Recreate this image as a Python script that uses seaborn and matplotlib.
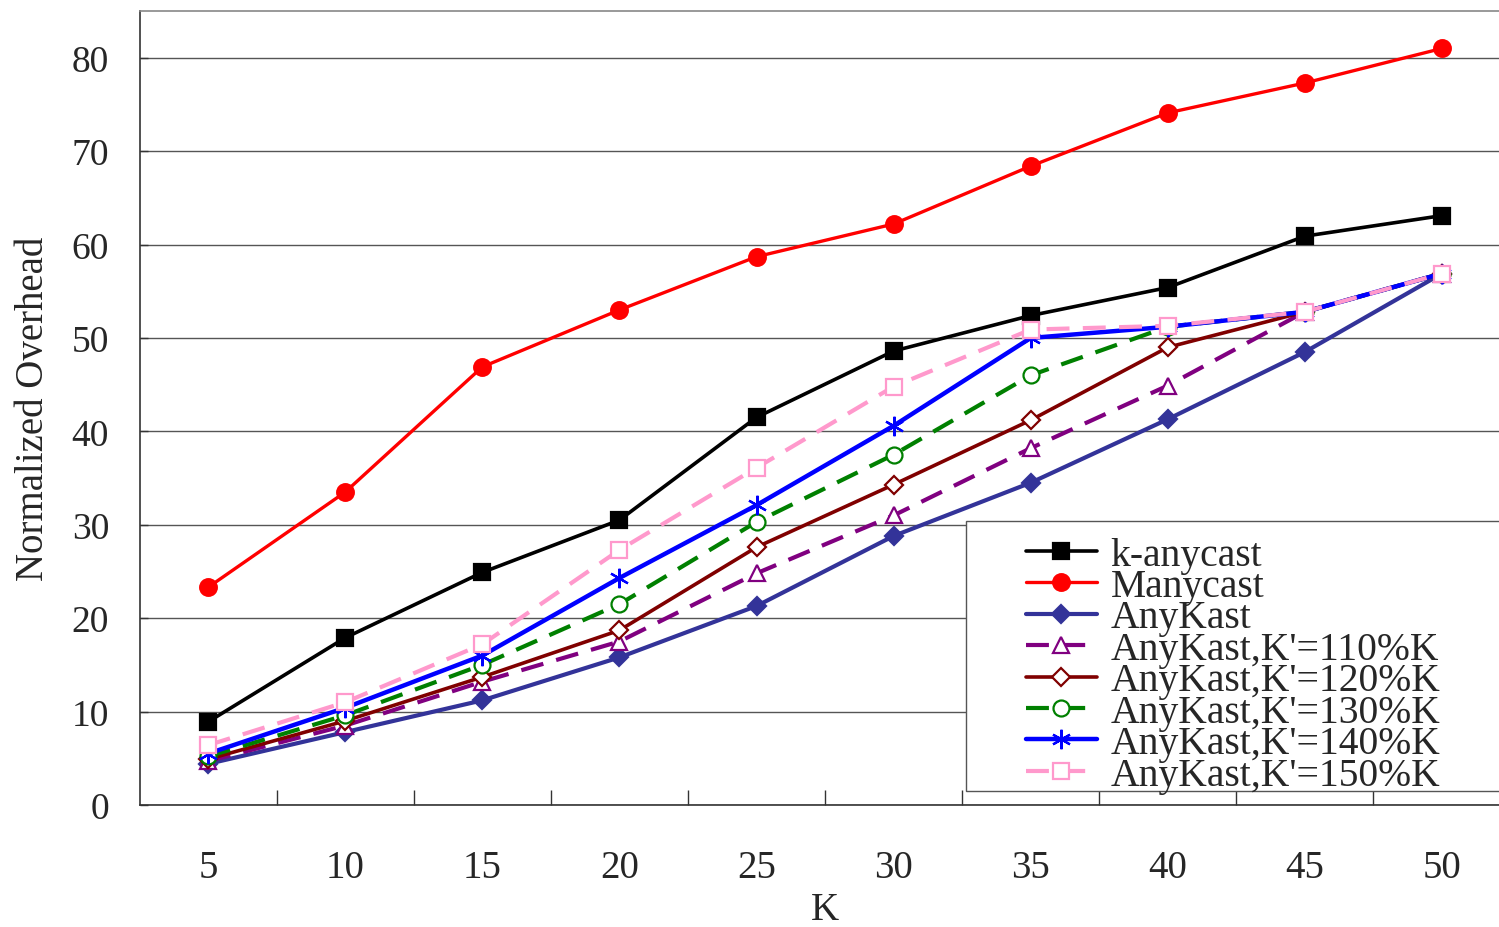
import numpy as np
import pandas as pd
import matplotlib
matplotlib.use("Agg")
import matplotlib.pyplot as plt
from matplotlib.patches import Rectangle
import seaborn as sns

# K values on the x axis
k_values = [5, 10, 15, 20, 25, 30, 35, 40, 45, 50]

# Normalized overhead per scheme
k_anycast = [8.9, 17.9, 24.9, 30.5, 41.5, 48.6, 52.4, 55.4, 60.9, 63.1]
manycast = [23.3, 33.5, 46.9, 53.0, 58.7, 62.2, 68.4, 74.1, 77.3, 81.0]
anykast = [4.4, 7.8, 11.2, 15.8, 21.3, 28.8, 34.5, 41.3, 48.5, 56.9]
anykast_110 = [4.7, 8.5, 13.2, 17.5, 24.8, 31.0, 38.2, 44.9, 52.8, 56.9]
anykast_120 = [4.9, 9.0, 13.7, 18.7, 27.6, 34.3, 41.2, 49.0, 52.8, 56.9]
anykast_130 = [5.2, 9.6, 15.0, 21.5, 30.3, 37.5, 46.0, 51.2, 52.8, 56.9]
anykast_140 = [5.5, 10.4, 16.0, 24.3, 32.1, 40.6, 50.0, 51.2, 52.8, 56.9]
anykast_150 = [6.4, 11.0, 17.2, 27.3, 36.1, 44.8, 50.9, 51.3, 52.8, 56.9]

series_names = ["k-anycast", "Manycast", "AnyKast",
                "AnyKast,K'=110%K", "AnyKast,K'=120%K", "AnyKast,K'=130%K",
                "AnyKast,K'=140%K", "AnyKast,K'=150%K"]
series_values = [k_anycast, manycast, anykast, anykast_110, anykast_120,
                 anykast_130, anykast_140, anykast_150]

df = pd.DataFrame({
    "K": np.tile(k_values, len(series_names)),
    "Overhead": np.concatenate(series_values),
    "Scheme": np.repeat(series_names, len(k_values)),
})

asterisk = (6, 2, 0)
styles = {
    "k-anycast":        dict(color="#000000", marker="s", ms=12, mfc="#000000", lw=2.6, ls="-"),
    "Manycast":         dict(color="#ff0000", marker="o", ms=12, mfc="#ff0000", lw=2.4, ls="-"),
    "AnyKast":          dict(color="#333399", marker="D", ms=9, mfc="#333399", lw=3.0, ls="-"),
    "AnyKast,K'=110%K": dict(color="#800080", marker="^", ms=12, mfc="white", lw=3.0, ls="--"),
    "AnyKast,K'=120%K": dict(color="#800000", marker="D", ms=9, mfc="white", lw=2.6, ls="-"),
    "AnyKast,K'=130%K": dict(color="#008000", marker="o", ms=11.5, mfc="white", lw=3.0, ls="--"),
    "AnyKast,K'=140%K": dict(color="#0000ff", marker=asterisk, ms=14, mfc="#0000ff", lw=3.2, ls="-"),
    "AnyKast,K'=150%K": dict(color="#ff99cc", marker="s", ms=12, mfc="white", lw=3.0, ls="--"),
}

sns.set_theme(style="white")
plt.rcParams["font.family"] = ["Liberation Serif", "DejaVu Serif"]

fig = plt.figure(figsize=(14.99, 9.28), dpi=100)
ax = fig.add_axes([0.0931, 0.1315, 0.9146, 0.8555])

for name in series_names:
    st = styles[name]
    sub = df[df["Scheme"] == name]
    kw = dict(color=st["color"], marker=st["marker"], markersize=st["ms"],
              markerfacecolor=st["mfc"], markeredgecolor=st["color"],
              markeredgewidth=1.6, linewidth=st["lw"], label=name)
    if st["ls"] == "--":
        kw["dashes"] = (5.5, 3.2)
    sns.lineplot(data=sub, x="K", y="Overhead", ax=ax, errorbar=None,
                 sort=False, **kw)

ax.set_xlim(2.5, 52.5)
ax.set_ylim(0, 85)
ax.set_xticks(k_values)
ax.set_xticks(np.arange(7.5, 52.5, 5), minor=True)
ax.set_yticks(np.arange(0, 81, 10))
ax.tick_params(axis="x", which="major", length=0, pad=32, labelsize=28)
ax.tick_params(axis="x", which="minor", direction="in", length=11,
               width=1, color="#333333", bottom=True)
ax.tick_params(axis="y", which="major", direction="in", length=6,
               width=1, color="#333333", pad=22, labelsize=27, left=True)
ax.grid(axis="y", color="#555555", linewidth=1.0)
ax.grid(axis="x", visible=False)
for side in ["left", "bottom", "top", "right"]:
    ax.spines[side].set_color("#333333")
    ax.spines[side].set_linewidth(1.2)
ax.spines["top"].set_color("#888888")

ax.set_xlabel("K", fontsize=28, labelpad=3)
ax.set_ylabel("Normalized Overhead", fontsize=28, labelpad=14)

# legend frame drawn as a separate box behind the entries
frame = Rectangle((0.6025, 0.018), 0.40, 0.340, transform=ax.transAxes,
                  facecolor="white", edgecolor="#555555", linewidth=1.0,
                  zorder=5)
ax.add_patch(frame)

handles, labels = ax.get_legend_handles_labels()
leg = ax.legend(handles, labels, loc="upper left",
                bbox_to_anchor=(0.626, 0.373), frameon=False,
                fontsize=28.5, handlelength=1.8, handletextpad=0.35,
                labelspacing=-0.14, borderpad=0.2)
leg.set_zorder(6)

fig.savefig("out.png", dpi=100)
